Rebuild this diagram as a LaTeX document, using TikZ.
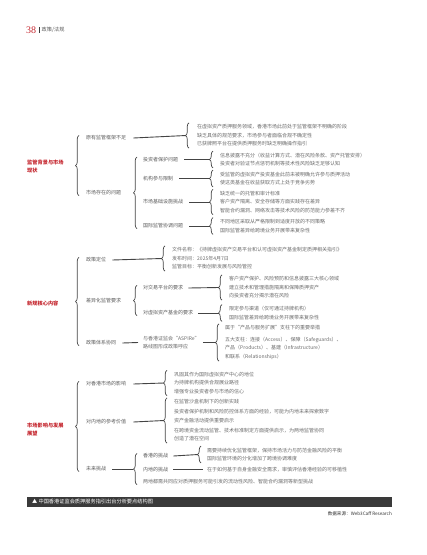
\documentclass[tikz,border=0pt]{standalone}
\usepackage{fontspec}
\setmainfont{Noto Sans CJK SC}
\newfontfamily\pagenofont{Liberation Serif}
\usetikzlibrary{decorations.pathreplacing}

\definecolor{headred}{HTML}{C4262E}
\definecolor{lblgray}{HTML}{5A5A5A}
\definecolor{itemgray}{HTML}{6A6A6A}
\definecolor{linegray}{HTML}{444444}
\definecolor{bardark}{HTML}{3A3A3A}

\tikzset{
  head/.style={anchor=west, inner sep=0pt, text=headred, align=left,
    font=\fontsize{5.2}{8}\selectfont\bfseries},
  lbl/.style={anchor=west, inner sep=0pt, text=lblgray,
    font=\fontsize{5}{8}\selectfont},
  grp/.style={anchor=west, inner xsep=0pt, inner ysep=1.5pt, text=itemgray, align=left,
    font=\fontsize{5}{8.5}\selectfont},
  conn/.style={draw=linegray, line width=0.9pt},
  brc/.style={draw=linegray, line width=0.7pt, decorate,
    decoration={brace, amplitude=3.5pt}},
}

\begin{document}
\begin{tikzpicture}[x=1pt,y=-1pt]
\useasboundingbox (0,0) rectangle (427,555);

% page header
\node[anchor=west, inner sep=0pt, text=headred, font=\fontsize{10}{10}\pagenofont] (pgno) at (26,30) {38};
\fill[bardark] (38.5,27) rectangle (39.8,33);
\node[anchor=west, inner sep=0pt, text=lblgray, font=\fontsize{5.2}{8}\selectfont] (rubric) at (41.5,30) {政策/法规};

% section 1
\node[head] (s1) at (27,166) {监管背景与市场\\现状};
\node[lbl] (a1) at (86,138) {原有监管框架不足};
\node[lbl] (a2) at (86,193) {市场存在的问题};
\draw[brc] ([xshift=-7pt]a2.south west) -- ([xshift=-7pt]a1.north west);

\node[grp] (g1) at (197,135.5) {在虚拟资产质押服务领域，香港市场此前处于监管框架不明确的阶段\\缺乏具体的规范要求，市场参与者面临合规不确定性\\已获牌照平台在提供质押服务时缺乏明确操作指引};
\draw[brc] ([xshift=-8pt]g1.south west) -- ([xshift=-8pt]g1.north west);
\draw[conn] ([xshift=7pt]a1.east) -- ([xshift=-11pt]g1.west);

\node[lbl] (c1) at (143,159.5) {投资者保护问题};
\node[lbl] (c2) at (143,178.5) {机构参与限制};
\node[lbl] (c3) at (143,202) {市场基础设施挑战};
\node[lbl] (c4) at (143,226) {国际监管协调问题};
\draw[brc] ([xshift=-6pt]c4.south west) -- ([xshift=-6pt]c1.north west);

\node[grp] (g2) at (220,159.5) {信息披露不充分（收益计算方式、潜在风险条款、资产托管安排）\\投资者对验证节点惩罚机制等技术性风险缺乏足够认知};
\node[grp] (g3) at (220,178.5) {受监管的虚拟资产投资基金此前未被明确允许参与质押活动\\使这类基金在收益获取方式上处于竞争劣势};
\node[grp] (g4) at (220,202) {缺乏统一的托管和审计标准\\客户资产隔离、安全存储等方面实践存在差异\\智能合约漏洞、网络攻击等技术风险的防范能力参差不齐};
\node[grp] (g5) at (220,226) {不同地区采取从严格限制到适度开放的不同策略\\国际监管差异给跨境业务开展带来复杂性};
\foreach \c/\g in {c1/g2, c2/g3, c3/g4, c4/g5} {
  \draw[brc] ([xshift=-7pt]\g.south west) -- ([xshift=-7pt]\g.north west);
  \draw[conn] ([xshift=6pt]\c.east) -- ([xshift=-10pt]\g.west);
}

% section 2
\node[head] (s2) at (27,303) {新规核心内容};
\node[lbl] (b1) at (86,260) {政策定位};
\node[lbl] (b2) at (86,301) {差异化监管要求};
\node[lbl] (b3) at (86,343) {政策体系协同};
\draw[brc] ([xshift=-7pt]b3.south west) -- ([xshift=-7pt]b1.north west);

\node[grp] (g6) at (172,258.5) {文件名称：《持牌虚拟资产交易平台和认可虚拟资产基金制定质押相关指引》\\发布时间：2025年4月7日\\监管目标：平衡创新发展与风险管控};
\draw[brc] ([xshift=-7pt]g6.south west) -- ([xshift=-7pt]g6.north west);
\draw[conn] ([xshift=6pt]b1.east) -- ([xshift=-10pt]g6.west);

\node[lbl] (d1) at (143,288) {对交易平台的要求};
\node[lbl] (d2) at (143,313) {对虚拟资产基金的要求};
\draw[brc] ([xshift=-6pt]d2.south west) -- ([xshift=-6pt]d1.north west);
\node[grp] (g7) at (229,287.5) {客户资产保护、风险预防和信息披露三大核心领域\\建立技术和管理措施隔离和保障质押资产\\向投资者充分揭示潜在风险};
\node[grp] (g8) at (229,313) {限定参与渠道（仅可通过持牌机构）\\国际监管差异给跨境业务开展带来复杂性};
\foreach \c/\g in {d1/g7, d2/g8} {
  \draw[brc] ([xshift=-7pt]\g.south west) -- ([xshift=-7pt]\g.north west);
  \draw[conn] ([xshift=5pt]\c.east) -- ([xshift=-10pt]\g.west);
}

\node[lbl, align=left, text=itemgray] (asp) at (143,342.5) {与香港证监会“ASPIRe”\\路线图形成政策呼应};
\draw[conn] ([xshift=6pt]b3.east) -- ([xshift=-5pt]asp.west);
\node[grp] (g9) at (225,342.5) {属于“产品与服务扩展”支柱下的重要举措\\[3pt]五大支柱：连接（Access）、保障（Safeguards）、\\产品（Products）、基建（Infrastructure）\\和联系（Relationships）};
\draw[brc] ([xshift=-6pt]g9.south west) -- ([xshift=-6pt]g9.north west);
\draw[conn] ([xshift=3pt]asp.east) -- ([xshift=-9pt]g9.west);

% section 3
\node[head] (s3) at (27,429.5) {市场影响与发展\\展望};
\node[lbl] (e1) at (86,384) {对香港市场的影响};
\node[lbl] (e2) at (86,422) {对内地的参考价值};
\node[lbl] (e3) at (86,469) {未来挑战};
\draw[brc] ([xshift=-7pt]e3.south west) -- ([xshift=-7pt]e1.north west);

\node[grp] (g10) at (174,383) {巩固其作为国际虚拟资产中心的地位\\为持牌机构提供合规展业路径\\增强专业投资者参与市场的信心};
\node[grp] (g11) at (174,420.5) {在监管沙盒机制下的创新实践\\[1.5pt]投资者保护机制和风险防控体系方面的经验，可能为内地未来探索数字\\资产金融活动提供重要启示\\[1.5pt]在跨境资金流动监管、技术标准制定方面提供启示，为两地监管协同\\创造了潜在空间};
\foreach \c/\g in {e1/g10, e2/g11} {
  \draw[brc] ([xshift=-7pt]\g.south west) -- ([xshift=-7pt]\g.north west);
  \draw[conn] ([xshift=7pt]\c.east) -- ([xshift=-10pt]\g.west);
}

\node[lbl] (f1) at (143,456) {香港的挑战};
\node[lbl] (f2) at (143,469.5) {内地的挑战};
\node[lbl, text=itemgray] (f3) at (143,482) {两地都需共同应对质押服务可能引发的流动性风险、智能合约漏洞等新型挑战};
\draw[brc] ([xshift=-6pt]f3.south west) -- ([xshift=-6pt]f1.north west);
\coordinate (ftip) at ([xshift=-10pt]f2.west);
\draw[conn] ([xshift=6pt]e3.east) -- (e3.east -| ftip);

\node[grp] (g12) at (207,454.5) {需要持续优化监管框架，保持市场活力与防范金融风险的平衡\\国际监管环境的分化增加了跨境协调难度};
\draw[brc] ([xshift=-6pt]g12.south west) -- ([xshift=-6pt]g12.north west);
\draw[conn] ([xshift=5pt]f1.east) -- ([xshift=-9pt]g12.west);
\node[grp] (g13) at (207,469.5) {在于如何基于自身金融安全需求，审慎评估香港经验的可移植性};
\draw[conn] ([xshift=5pt]f2.east) -- ([xshift=-4pt]g13.west);

% caption bar and source
\node[anchor=north west, fill=bardark, minimum width=365pt, minimum height=9.5pt, inner sep=0pt] (cap) at (27,497) {};
\node[anchor=west, inner sep=0pt, text=white, font=\fontsize{5.2}{8}\selectfont] (captxt) at ([xshift=5pt]cap.west) {▲\ 中国香港证监会质押服务指引出台分析要点结构图};
\node[anchor=east, inner sep=0pt, text=black!80, font=\fontsize{4.6}{8}\selectfont] (src) at (392,514) {数据来源：Web3Caff Research};
\end{tikzpicture}
\end{document}
